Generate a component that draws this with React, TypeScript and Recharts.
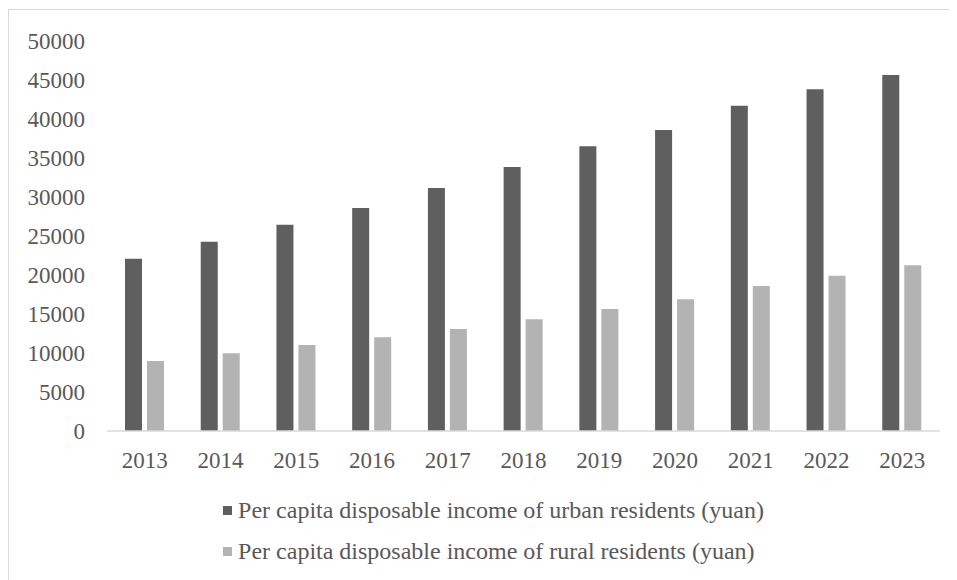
import { BarChart, Bar, XAxis, YAxis, Legend } from 'recharts';

const years = ['2013', '2014', '2015', '2016', '2017', '2018', '2019', '2020', '2021', '2022', '2023'];
const urbanIncome = [22090, 24270, 26450, 28590, 31150, 33850, 36500, 38590, 41710, 43810, 45640];
const ruralIncome = [8970, 9960, 11030, 12010, 13080, 14320, 15640, 16880, 18590, 19910, 21240];
const yTicks = [0, 5000, 10000, 15000, 20000, 25000, 30000, 35000, 40000, 45000, 50000];

const URBAN_LABEL = 'Per capita disposable income of urban residents (yuan)';
const RURAL_LABEL = 'Per capita disposable income of rural residents (yuan)';

const COLORS = {
    urban: '#5f5f5f',
    rural: '#b3b3b3',
    text: '#595959',
    axis: '#d9d9d9',
};

const FONT = '"Liberation Serif", "Times New Roman", serif';

const data = years.map((year, i) => ({
    year,
    urban: urbanIncome[i],
    rural: ruralIncome[i],
}));

function IncomeLegend() {
    const items = [
        { label: URBAN_LABEL, color: COLORS.urban },
        { label: RURAL_LABEL, color: COLORS.rural },
    ];
    return (
        <div style={{ display: 'flex', flexDirection: 'column', alignItems: 'center', paddingTop: 14, paddingLeft: 38 }}>
            <div>
                {items.map((it) => (
                    <div key={it.label} style={{ height: 41, display: 'flex', alignItems: 'center' }}>
                        <span style={{ width: 9, height: 9, background: it.color, marginRight: 6, display: 'inline-block' }} />
                        <span style={{ fontFamily: FONT, fontSize: 24, color: COLORS.text }}>{it.label}</span>
                    </div>
                ))}
            </div>
        </div>
    );
}

export default function App() {
    return (
        <div style={{ width: 960, height: 600, border: `1px solid ${COLORS.axis}`, marginTop: 1, boxSizing: 'border-box', background: '#fff' }}>
            <BarChart
                width={950}
                height={570}
                data={data}
                margin={{ top: 31, right: 19, bottom: 14, left: 0 }}
                barSize={17}
                barGap={5}
            >
                <XAxis
                    dataKey="year"
                    tickLine={false}
                    tickSize={0}
                    tickMargin={21}
                    height={45}
                    axisLine={{ stroke: COLORS.axis, strokeWidth: 1.5 }}
                    tick={{ fill: COLORS.text, fontFamily: FONT, fontSize: 23 }}
                />
                <YAxis
                    domain={[0, 50000]}
                    ticks={yTicks}
                    width={98}
                    tickLine={false}
                    axisLine={false}
                    tickSize={0}
                    tickMargin={22}
                    tick={{ fill: COLORS.text, fontFamily: FONT, fontSize: 23 }}
                />
                <Legend verticalAlign="bottom" height={90} content={() => <IncomeLegend />} />
                <Bar dataKey="urban" name={URBAN_LABEL} fill={COLORS.urban} isAnimationActive={false} />
                <Bar dataKey="rural" name={RURAL_LABEL} fill={COLORS.rural} isAnimationActive={false} />
            </BarChart>
        </div>
    );
}
